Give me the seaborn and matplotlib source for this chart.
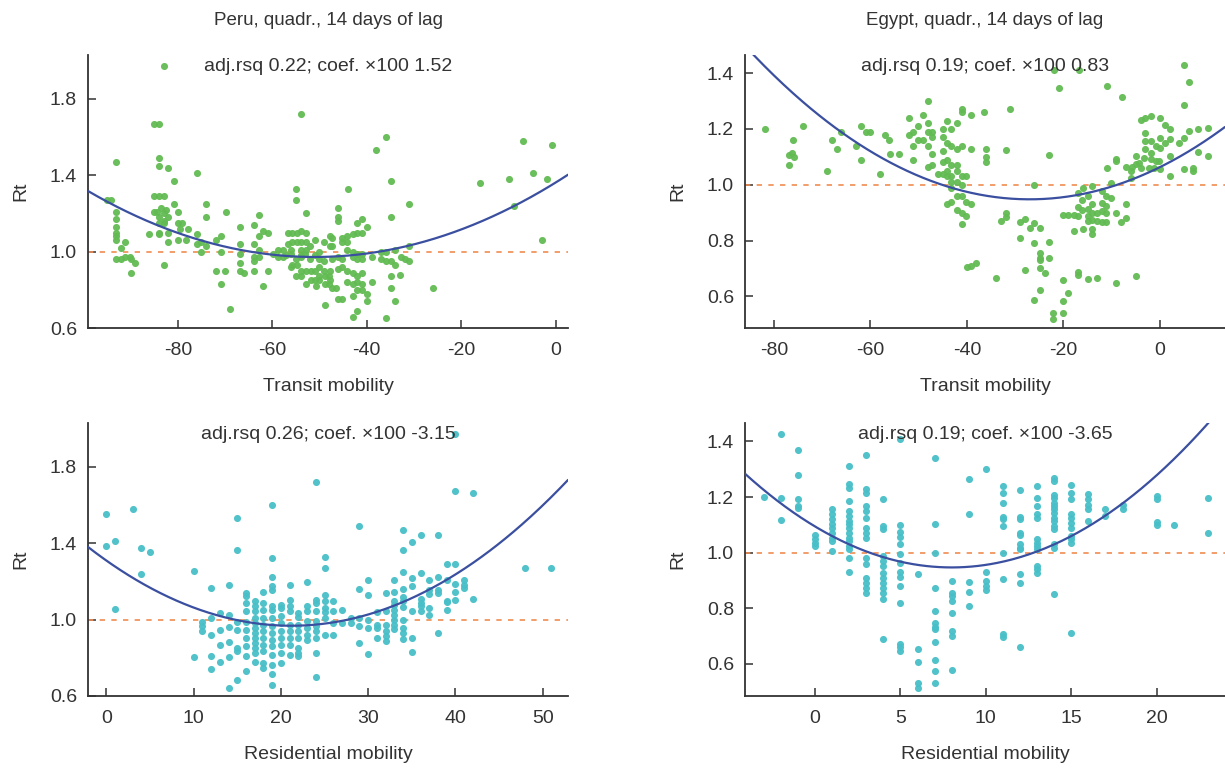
import numpy as np
import pandas as pd
import matplotlib
matplotlib.use("Agg")
import matplotlib.pyplot as plt
import seaborn as sns

# ---- data ----
# Peru, transit mobility (x) vs Rt (y)
peru_transit = [
    (-83.0, 1.97), (-53.9, 1.72), (-93.1, 1.47), (-85.0, 1.67), (-84.0, 1.67), (-84.0, 1.49), (-84.0, 1.45),
    (-82.0, 1.44), (-76.0, 1.41), (-80.9, 1.37), (-95.0, 1.27), (-94.1, 1.27), (-85.0, 1.29), (-84.0, 1.29),
    (-83.0, 1.29), (-54.9, 1.33), (-54.9, 1.27), (-52.9, 1.20),
    (-93.1, 1.21), (-93.1, 1.17), (-93.1, 1.13), (-93.1, 1.10), (-93.1, 1.08), (-93.1, 1.06), (-91.1, 1.05),
    (-92.1, 1.02), (-93.1, 0.96), (-92.1, 0.96), (-91.1, 0.97), (-90.2, 0.97), (-90.0, 0.96), (-89.0, 0.94),
    (-90.0, 0.89),
    (-85.0, 1.21), (-84.3, 1.21), (-83.6, 1.23), (-82.5, 1.22), (-83.0, 1.20), (-84.0, 1.18), (-83.0, 1.16),
    (-82.0, 1.18), (-84.0, 1.15), (-83.0, 1.15), (-84.0, 1.10), (-82.0, 1.10), (-84.0, 1.09), (-82.0, 1.05),
    (-86.0, 1.09), (-83.0, 0.93),
    (-80.9, 1.25), (-80.0, 1.21), (-80.0, 1.15), (-79.0, 1.15), (-79.5, 1.12), (-77.9, 1.12), (-80.0, 1.06),
    (-78.2, 1.06), (-76.0, 1.09), (-76.0, 1.04), (-75.1, 1.05), (-74.0, 1.03), (-75.0, 1.00), (-74.0, 1.25),
    (-74.0, 1.18),
    (-69.8, 1.21), (-70.9, 1.08), (-71.9, 1.06), (-70.9, 1.00), (-71.9, 0.90), (-69.9, 0.90), (-70.9, 0.83),
    (-68.9, 0.70), (-66.9, 1.13), (-66.9, 1.04), (-66.9, 0.99), (-66.9, 0.94), (-65.9, 0.89), (-66.9, 0.90),
    (-62.9, 1.19), (-63.9, 1.14), (-62.0, 1.11), (-60.9, 1.10), (-62.9, 1.08), (-63.9, 1.04), (-62.9, 1.01),
    (-63.9, 0.97), (-62.9, 0.97), (-63.9, 0.95), (-63.9, 0.90), (-60.9, 0.90), (-62.0, 0.82),
    (-58.8, 1.01), (-59.8, 0.99), (-58.8, 0.97), (-57.7, 1.01), (-57.7, 0.97), (-56.7, 1.04), (-55.8, 1.05),
    (-54.8, 1.05), (-56.7, 1.10), (-55.8, 1.10), (-54.8, 1.10), (-53.9, 1.11), (-52.9, 1.10), (-53.9, 1.05),
    (-52.9, 1.05), (-53.9, 1.01), (-52.9, 1.01), (-55.8, 0.93), (-54.8, 0.93), (-53.9, 0.97), (-53.9, 0.90),
    (-52.9, 0.90), (-52.8, 0.83), (-51.9, 0.90), (-51.9, 0.85), (-51.0, 0.85), (-51.0, 0.90), (-50.0, 0.87),
    (-50.0, 0.85), (-48.9, 0.87), (-48.9, 0.83), (-47.8, 0.90), (-47.8, 0.85), (-50.7, 0.82), (-53.9, 0.87),
    (-54.9, 0.87), (-56.1, 1.01),
    (-57.0, 0.98), (-56.0, 0.99), (-55.0, 0.96), (-54.0, 0.98), (-53.0, 0.99), (-52.0, 0.96), (-51.0, 0.98),
    (-50.0, 0.96), (-49.0, 0.95), (-50.0, 1.00), (-52.0, 1.03), (-49.0, 1.05), (-51.0, 1.06), (-56.0, 0.92),
    (-50.0, 0.92), (-49.0, 0.90), (-48.9, 0.72), (-47.8, 1.08), (-47.8, 1.03),
    (-36.0, 1.60), (-38.0, 1.53), (-34.9, 1.37), (-44.0, 1.33), (-46.0, 1.23), (-46.0, 1.18), (-46.0, 1.16),
    (-31.0, 1.25), (-34.9, 1.18),
    (-40.9, 1.17), (-42.0, 1.15), (-42.0, 1.10), (-43.0, 1.09), (-44.1, 1.08), (-45.2, 1.07), (-45.2, 1.05),
    (-44.1, 1.05), (-41.0, 1.10), (-39.9, 1.13), (-47.3, 1.07), (-47.3, 1.03),
    (-44.1, 1.01), (-43.0, 1.00), (-42.0, 0.99), (-40.9, 0.99), (-43.0, 0.97), (-42.0, 0.96), (-40.9, 0.96),
    (-45.2, 0.96), (-46.0, 0.97), (-47.3, 0.96), (-46.0, 0.91), (-45.2, 0.92), (-44.1, 0.90), (-43.0, 0.89),
    (-42.0, 0.87), (-42.0, 0.84), (-40.9, 0.89), (-40.9, 0.83), (-43.0, 0.83), (-44.1, 0.84), (-40.9, 0.80),
    (-39.9, 0.78), (-42.0, 0.80), (-43.0, 0.77), (-45.2, 0.75), (-46.0, 0.75), (-47.3, 0.81), (-46.6, 0.81),
    (-48.0, 0.87), (-48.0, 0.83), (-39.9, 0.74), (-42.0, 0.69), (-43.0, 0.66), (-38.9, 0.84), (-38.9, 0.97),
    (-36.0, 0.65), (-37.0, 1.00), (-36.0, 1.00), (-34.0, 1.01), (-36.0, 0.95), (-34.9, 0.95), (-34.0, 0.93),
    (-32.8, 0.97), (-31.9, 0.96), (-31.0, 1.03), (-31.0, 0.95), (-33.0, 0.88), (-34.9, 0.87), (-34.9, 0.81),
    (-34.0, 0.74), (-37.0, 0.96),
    (-25.9, 0.81), (-16.0, 1.36), (-9.9, 1.38), (-8.9, 1.24), (-6.9, 1.58), (-4.9, 1.41), (-2.9, 1.06),
    (-1.8, 1.38), (-0.8, 1.56),
]

# Egypt, transit mobility (x) vs Rt (y)
egypt_transit = [
    (-81.9, 1.20), (-74.0, 1.21), (-76.9, 1.105), (-76.2, 1.115), (-75.9, 1.10), (-76.1, 1.16), (-76.9, 1.07),
    (-69.0, 1.05), (-68.0, 1.16), (-67.0, 1.13), (-66.1, 1.19), (-63.0, 1.14), (-62.0, 1.21), (-62.0, 1.09),
    (-61.0, 1.19), (-60.0, 1.19), (-58.1, 1.04), (-57.0, 1.18), (-56.1, 1.16), (-56.0, 1.11), (-54.1, 1.11),
    (-52.0, 1.24), (-52.0, 1.18), (-51.1, 1.19), (-51.1, 1.14), (-51.1, 1.09), (-50.2, 1.16), (-50.2, 1.21),
    (-49.1, 1.25), (-49.1, 1.16), (-48.1, 1.30), (-48.1, 1.22), (-48.1, 1.19), (-47.2, 1.19), (-47.2, 1.17),
    (-47.2, 1.11), (-48.1, 1.14), (-48.1, 1.065), (-47.2, 1.07),
    (-46.0, 1.04), (-45.0, 1.04), (-44.1, 1.03), (-43.2, 1.03), (-42.1, 1.05), (-41.1, 1.03), (-40.2, 1.03),
    (-45.0, 1.20), (-45.0, 1.17), (-44.1, 1.23), (-43.2, 1.20), (-42.1, 1.22), (-44.1, 1.15), (-43.2, 1.14),
    (-45.0, 1.12), (-44.1, 1.09), (-42.1, 1.13), (-41.1, 1.14), (-45.0, 1.08), (-43.2, 1.07), (-42.1, 1.07),
    (-44.1, 1.05), (-43.2, 1.01), (-42.1, 1.01), (-41.1, 1.00), (-43.2, 0.99), (-42.1, 0.96), (-41.1, 0.96),
    (-40.2, 0.94), (-39.2, 0.93), (-42.1, 0.91), (-41.1, 0.90), (-40.2, 0.89), (-41.1, 0.86), (-43.2, 0.94),
    (-44.1, 0.93), (-39.2, 1.13), (-39.2, 1.25), (-41.1, 1.27), (-41.1, 1.26), (-36.4, 1.26), (-36.1, 1.13),
    (-36.1, 1.10), (-36.1, 1.08), (-40.0, 0.705), (-39.2, 0.71), (-38.2, 0.72),
    (-31.0, 1.27), (-32.0, 1.125), (-23.0, 1.105), (-21.0, 1.345), (-21.9, 1.41), (-16.7, 1.41), (-11.0, 1.355),
    (-7.9, 1.315), (4.9, 1.43), (6.0, 1.37), (4.9, 1.285), (-26.0, 1.00),
    (-32.0, 0.90), (-32.0, 0.885), (-32.9, 0.87), (-34.0, 0.666),
    (-28.9, 0.866), (-28.0, 0.878), (-27.0, 0.846), (-26.0, 0.863), (-26.0, 0.792), (-24.9, 0.846),
    (-28.9, 0.81), (-24.9, 0.756), (-24.9, 0.738), (-24.9, 0.732), (-24.9, 0.702), (-23.9, 0.684),
    (-23.0, 0.794), (-23.0, 0.738), (-24.9, 0.624), (-26.0, 0.586), (-28.0, 0.693),
    (-22.1, 0.54), (-22.1, 0.519), (-20.0, 0.54), (-20.0, 0.582), (-19.1, 0.612), (-20.0, 0.66), (-17.0, 0.686),
    (-17.0, 0.678), (-15.0, 0.662), (-13.1, 0.665), (-9.0, 0.65), (-5.0, 0.675),
    (-20.0, 0.891), (-19.1, 0.891), (-17.9, 0.893), (-17.0, 0.921), (-17.0, 0.89), (-16.2, 0.908),
    (-16.2, 0.947), (-15.0, 0.959), (-15.0, 0.914), (-15.0, 0.887), (-15.0, 0.869), (-14.0, 0.933),
    (-14.0, 0.899), (-14.0, 0.875), (-13.1, 0.899), (-13.1, 0.869), (-12.1, 0.935), (-12.1, 0.905),
    (-12.1, 0.866), (-11.2, 0.899), (-11.2, 0.866), (-11.1, 0.923), (-11.1, 0.959), (-10.2, 0.953),
    (-9.1, 0.899), (-8.1, 0.866), (-7.1, 0.881), (-7.1, 0.932), (-17.9, 0.836), (-16.0, 0.84), (-14.0, 0.84),
    (-14.0, 0.824), (-14.0, 0.995), (-16.0, 0.989), (-17.0, 0.971), (-12.0, 0.977), (-10.2, 1.007),
    (-11.0, 1.061), (-9.1, 1.093), (-9.1, 1.085), (-7.1, 1.065), (-6.0, 1.049), (-6.0, 1.025), (-5.0, 1.103),
    (-5.0, 1.073), (-4.3, 1.079), (-4.0, 1.061), (-3.0, 1.241), (-4.0, 1.232), (-1.9, 1.247), (-3.0, 1.187),
    (-3.0, 1.157), (-1.9, 1.157), (-3.0, 1.127), (-1.9, 1.115), (-1.9, 1.091), (-0.9, 1.139), (-0.9, 1.085),
    (0.1, 1.241), (0.1, 1.169), (0.1, 1.133), (0.1, 1.055), (1.0, 1.213), (1.0, 1.151), (2.0, 1.199),
    (2.0, 1.163), (2.0, 1.103), (2.0, 1.031), (3.9, 1.151), (4.9, 1.169), (6.0, 1.193), (4.9, 1.055),
    (6.9, 1.061), (6.9, 1.049), (7.9, 1.199), (7.9, 1.119), (10.0, 1.205), (10.0, 1.103), (-2.3, 1.061),
    (-1.2, 1.061), (-0.2, 1.085), (-3.3, 1.097), (-5.7, 1.065),
]

# Peru, residential mobility: x columns and the Rt values in each column
peru_res_x = [0, 1, 3, 4, 5, 10, 11, 12, 13, 14, 15, 16, 17, 18, 19, 20, 21, 22, 23, 24, 25, 26, 27, 28,
              29, 30, 31, 32, 33, 34, 35, 36, 37, 38, 39, 40, 41, 42, 48, 51]
peru_res_rt = [
    [1.555, 1.384], [1.414, 1.054], [1.58], [1.376, 1.238], [1.355], [1.253, 0.806], [0.99, 0.965, 0.94],
    [1.166, 1.01, 0.92, 0.81, 0.743], [1.035, 0.946, 0.869, 0.776], [1.18, 1.026, 0.96, 0.883, 0.806, 0.642],
    [1.53, 1.365, 0.986, 0.948, 0.852, 0.838, 0.686],
    [1.14, 1.122, 1.087, 1.044, 0.988, 0.948, 0.904, 0.86, 0.808, 0.733],
    [1.096, 1.07, 1.044, 1.009, 0.983, 0.956, 0.93, 0.904, 0.878, 0.852, 0.825, 0.776],
    [1.145, 1.087, 1.052, 1.009, 0.97, 0.939, 0.904, 0.869, 0.834, 0.773, 0.747],
    [1.603, 1.323, 1.222, 1.175, 1.157, 1.07, 1.052, 1.009, 0.965, 0.93, 0.895, 0.86, 0.817, 0.764, 0.715, 0.659],
    [1.079, 1.061, 1.017, 0.983, 0.939, 0.904, 0.869, 0.825, 0.771],
    [1.183, 1.105, 1.07, 1.044, 0.974, 0.939, 0.904, 0.869, 0.817],
    [1.035, 1.012, 0.974, 0.939, 0.904, 0.852, 0.825, 0.808],
    [1.197, 1.07, 1.044, 0.991, 0.956, 0.921, 0.895],
    [1.72, 1.105, 1.087, 1.044, 0.991, 0.965, 0.939, 0.904, 0.825, 0.698],
    [1.33, 1.27, 1.13, 1.10, 1.06, 1.04, 1.01, 0.92],
    [1.096, 1.047, 0.983, 0.921], [1.05, 0.98], [1.01, 0.98], [1.49, 1.16, 1.01, 0.965, 0.88],
    [1.205, 1.127, 0.998, 0.955, 0.82], [1.04, 0.97, 0.955, 0.904], [1.14, 1.045, 0.974, 0.939, 0.913, 0.887],
    [1.21, 1.147, 1.10, 1.077, 1.05, 1.024, 0.998, 0.974, 0.951],
    [1.47, 1.363, 1.248, 1.163, 1.12, 1.10, 1.065, 0.998, 0.955, 0.929, 0.90],
    [1.405, 1.218, 1.175, 1.045, 0.904, 0.83], [1.445, 1.243, 1.108, 1.087, 1.07, 1.047],
    [1.205, 1.157, 1.133, 1.06, 1.026], [1.442, 1.222, 1.157, 1.14, 0.929], [1.29, 1.205, 1.10, 1.09, 1.053],
    [1.97, 1.674, 1.29, 1.186, 1.147, 1.103], [1.21, 1.18, 1.166], [1.664, 1.108], [1.27], [1.27],
]

# Egypt, residential mobility: x columns and the Rt values in each column
egypt_res_x = [-3, -2, -1, 0, 1, 2, 3, 4, 5, 6, 7, 8, 9, 10, 11, 12, 13, 14, 15, 16, 17, 18, 20, 21, 23]
egypt_res_rt = [
    [1.20], [1.426, 1.198, 1.116], [1.369, 1.28, 1.192, 1.168, 1.162], [1.064, 1.048, 1.036, 1.024],
    [1.156, 1.138, 1.12, 1.104, 1.09, 1.072, 1.054, 1.042, 1.006],
    [1.312, 1.246, 1.234, 1.186, 1.15, 1.132, 1.114, 1.102, 1.09, 1.072, 1.054, 1.042, 1.024, 1.012, 0.982, 0.93],
    [1.352, 1.228, 1.216, 1.168, 1.15, 1.126, 1.09, 1.072, 1.054, 0.98, 0.958, 0.91, 0.892, 0.874, 0.856],
    [1.192, 1.096, 1.084, 0.988, 0.97, 0.952, 0.928, 0.91, 0.892, 0.874, 0.856, 0.832, 0.69],
    [1.41, 1.10, 1.076, 1.056, 1.03, 0.996, 0.964, 0.932, 0.912, 0.882, 0.82, 0.672, 0.66, 0.646],
    [0.922, 0.655, 0.607, 0.532, 0.514],
    [1.34, 1.102, 1.0, 0.872, 0.79, 0.748, 0.732, 0.724, 0.68, 0.616, 0.576, 0.532],
    [0.90, 0.856, 0.844, 0.828, 0.784, 0.72, 0.70, 0.58], [1.264, 1.14, 0.896, 0.86, 0.808],
    [1.30, 0.93, 0.90, 0.88, 0.865],
    [1.24, 1.216, 1.18, 1.128, 1.12, 1.096, 0.998, 0.904, 0.706, 0.696],
    [1.224, 1.128, 1.12, 1.072, 1.064, 1.03, 1.018, 1.012, 0.922, 0.892, 0.661],
    [1.24, 1.198, 1.168, 1.138, 1.126, 1.048, 1.036, 1.024, 1.012, 0.952, 0.94, 0.928],
    [1.268, 1.258, 1.208, 1.196, 1.18, 1.168, 1.156, 1.144, 1.126, 1.114, 1.096, 1.084, 1.03, 1.016, 0.852],
    [1.244, 1.216, 1.192, 1.138, 1.126, 1.108, 1.09, 1.06, 1.048, 1.036, 0.712],
    [1.212, 1.192, 1.172, 1.156, 1.114], [1.156, 1.131], [1.172, 1.156], [1.204, 1.192, 1.11, 1.10],
    [1.10], [1.198, 1.07],
]

# quadratic fit: vertex x, vertex Rt, curvature
fit_peru_transit = (-51.0, 0.972, 1.50e-4)
fit_egypt_transit = (-27.0, 0.948, 1.58e-4)
fit_peru_res = (21.2, 0.968, 7.6e-4)
fit_egypt_res = (8.0, 0.947, 2.3e-3)

titles = ["Peru, quadr., 14 days of lag", "Egypt, quadr., 14 days of lag"]
notes = ["adj.rsq 0.22; coef. \u00d7100 1.52", "adj.rsq 0.19; coef. \u00d7100 0.83",
         "adj.rsq 0.26; coef. \u00d7100 -3.15", "adj.rsq 0.19; coef. \u00d7100 -3.65"]


def pairs_frame(pts):
    x, y = zip(*pts)
    return pd.DataFrame({"x": x, "y": y})


def columns_frame(xs, cols):
    x = np.repeat(xs, [len(c) for c in cols])
    y = np.concatenate([np.asarray(c, dtype=float) for c in cols])
    return pd.DataFrame({"x": x, "y": y})


sns.set_theme(style="ticks")
plt.rcParams["font.family"] = ["Liberation Sans", "DejaVu Sans"]
plt.rcParams["axes.unicode_minus"] = False

GREEN = "#62bb52"
CYAN = "#48bfc8"
BLUE = "#3a4f9f"
ORANGE = "#f08c50"
INK = "#333333"
FS = 14

fig = plt.figure(figsize=(12.25, 7.69), dpi=100)
W, H = 1225, 769


def make_ax(left_px, top_px):
    return fig.add_axes([left_px / W, 1 - (top_px + 273) / H, 480 / W, 273 / H])


panels = [
    (make_ax(88, 55), pairs_frame(peru_transit), fit_peru_transit, GREEN, (-99, 2.6), (0.6, 2.03),
     [-80, -60, -40, -20, 0], [0.6, 1.0, 1.4, 1.8], "Transit mobility", titles[0], notes[0]),
    (make_ax(745, 55), pairs_frame(egypt_transit), fit_egypt_transit, GREEN, (-86, 13.5), (0.487, 1.465),
     [-80, -60, -40, -20, 0], [0.6, 0.8, 1.0, 1.2, 1.4], "Transit mobility", titles[1], notes[1]),
    (make_ax(88, 423), columns_frame(peru_res_x, peru_res_rt), fit_peru_res, CYAN, (-2.1, 52.9), (0.6, 2.03),
     [0, 10, 20, 30, 40, 50], [0.6, 1.0, 1.4, 1.8], "Residential mobility", None, notes[2]),
    (make_ax(745, 423), columns_frame(egypt_res_x, egypt_res_rt), fit_egypt_res, CYAN, (-4.1, 24.0),
     (0.485, 1.466), [0, 5, 10, 15, 20], [0.6, 0.8, 1.0, 1.2, 1.4], "Residential mobility", None, notes[3]),
]

for ax, df, fit, col, xl, yl, xt, yt, xlab, title, note in panels:
    ax.axhline(1.0, color=ORANGE, lw=1.2, ls=(0, (3.2, 3.8)), zorder=1)
    sns.scatterplot(data=df, x="x", y="y", ax=ax, color=col, s=26, linewidth=0, alpha=0.95, zorder=2)
    h, c, a = fit
    gx = np.linspace(xl[0], xl[1], 300)
    curve = pd.DataFrame({"x": gx, "y": c + a * (gx - h) ** 2})
    sns.lineplot(data=curve, x="x", y="y", ax=ax, color=BLUE, lw=1.6, zorder=3)
    ax.set_xlim(*xl)
    ax.set_ylim(*yl)
    ax.set_xticks(xt)
    ax.set_yticks(yt)
    ax.set_yticklabels([f"{v:.1f}" for v in yt])
    ax.tick_params(direction="in", length=6, width=1.1, color=INK, labelsize=FS, labelcolor=INK, pad=8)
    ax.tick_params(axis="x", pad=10)
    ax.set_xlabel("")
    ax.set_ylabel("")
    for s in ["left", "bottom"]:
        ax.spines[s].set_color(INK)
        ax.spines[s].set_linewidth(1.3)
    sns.despine(ax=ax)
    ax.text(0.5, -0.216, xlab, transform=ax.transAxes, ha="center", va="center", fontsize=FS, color=INK)
    ax.text(-0.14, 0.5, "Rt", transform=ax.transAxes, ha="center", va="center", rotation=90,
            fontsize=FS, color=INK)
    ax.text(0.5, 0.958, note, transform=ax.transAxes, ha="center", va="center", fontsize=FS, color=INK,
            zorder=4)
    if title:
        ax.text(0.5, 1.128, title, transform=ax.transAxes, ha="center", va="center", fontsize=FS - 0.5,
                color=INK)

fig.savefig("out.png", dpi=100)
